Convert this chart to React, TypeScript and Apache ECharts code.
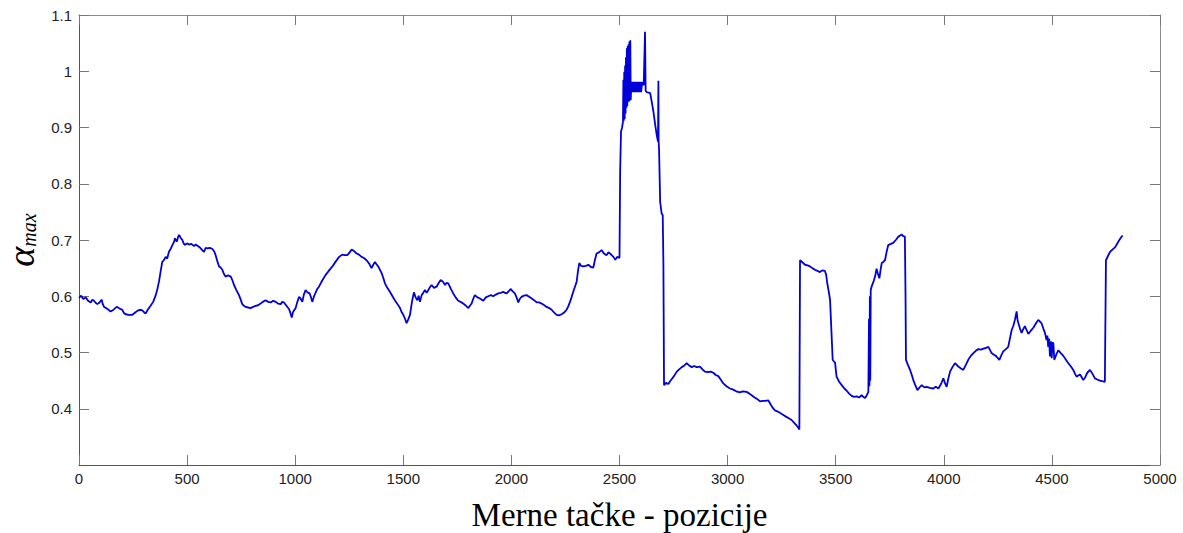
import React, { useEffect, useRef } from "react";
import * as echarts from "echarts";

const positions: number[] = [
  0, 10, 20, 31, 42, 54, 62, 69, 78, 85, 95, 105, 110, 116, 130, 146, 160, 170, 177, 188,
  200, 208, 216, 230, 247, 260, 270, 282, 293, 300, 308, 318, 331, 343, 355, 362, 370, 378, 385, 392,
  401, 408, 416, 425, 432, 440, 444, 452, 458, 463, 470, 478, 484, 490, 500, 509, 520, 532, 540, 547,
  555, 563, 570, 578, 586, 594, 605, 617, 625, 632, 640, 648, 655, 663, 670, 678, 690, 702, 710, 717,
  728, 740, 748, 755, 763, 771, 782, 794, 805, 817, 828, 840, 850, 863, 875, 887, 898, 910, 920, 933,
  940, 948, 956, 964, 972, 978, 984, 990, 1002, 1010, 1018, 1025, 1033, 1040, 1048, 1056, 1067, 1073, 1079, 1087,
  1095, 1102, 1110, 1125, 1141, 1155, 1172, 1188, 1203, 1218, 1230, 1241, 1252, 1261, 1270, 1284, 1295, 1307, 1318, 1330,
  1342, 1353, 1361, 1369, 1376, 1384, 1392, 1400, 1408, 1415, 1426, 1438, 1450, 1461, 1473, 1485, 1492, 1500, 1508, 1515,
  1522, 1531, 1540, 1549, 1557, 1565, 1571, 1577, 1585, 1592, 1600, 1608, 1616, 1623, 1631, 1642, 1654, 1663, 1673, 1683,
  1693, 1700, 1708, 1720, 1731, 1742, 1754, 1765, 1777, 1790, 1801, 1808, 1816, 1824, 1831, 1843, 1855, 1862, 1870, 1882,
  1893, 1905, 1916, 1928, 1939, 1951, 1963, 1970, 1978, 1988, 1996, 2005, 2016, 2024, 2032, 2040, 2047, 2058, 2070, 2082,
  2094, 2105, 2117, 2128, 2140, 2152, 2163, 2175, 2186, 2198, 2209, 2220, 2232, 2244, 2255, 2263, 2271, 2278, 2286, 2294,
  2302, 2308, 2314, 2322, 2333, 2345, 2356, 2368, 2379, 2386, 2394, 2405, 2417, 2428, 2440, 2448, 2456, 2464, 2472, 2480,
  2490, 2500, 2503, 2507, 2512, 2516, 2518, 2520, 2522, 2524, 2526, 2528, 2530, 2532, 2534, 2536, 2538, 2540, 2542, 2544,
  2546, 2548, 2550, 2552, 2555, 2560, 2564, 2568, 2572, 2576, 2580, 2584, 2588, 2592, 2596, 2600, 2605, 2612, 2618, 2621,
  2626, 2634, 2642, 2649, 2657, 2665, 2672, 2678, 2680, 2681, 2683, 2688, 2695, 2700, 2703, 2706, 2715, 2726, 2734, 2742,
  2752, 2765, 2776, 2788, 2800, 2811, 2822, 2834, 2845, 2857, 2872, 2884, 2895, 2910, 2922, 2934, 2945, 2957, 2968, 2980,
  2995, 3011, 3026, 3040, 3057, 3070, 3088, 3100, 3111, 3125, 3138, 3150, 3162, 3175, 3188, 3200, 3210, 3219, 3232, 3245,
  3258, 3270, 3283, 3296, 3308, 3320, 3332, 3335, 3347, 3358, 3370, 3381, 3392, 3404, 3416, 3427, 3438, 3450, 3456, 3461,
  3468, 3474, 3480, 3486, 3492, 3497, 3504, 3516, 3528, 3540, 3551, 3562, 3574, 3585, 3597, 3608, 3620, 3628, 3636, 3644,
  3651, 3654, 3656, 3658, 3660, 3662, 3666, 3674, 3682, 3689, 3695, 3702, 3708, 3713, 3720, 3728, 3735, 3743, 3755, 3766,
  3778, 3790, 3798, 3805, 3812, 3820, 3823, 3825, 3834, 3844, 3852, 3859, 3868, 3878, 3888, 3898, 3910, 3921, 3935, 3951,
  3963, 3975, 3987, 3998, 4005, 4013, 4020, 4029, 4040, 4052, 4060, 4067, 4078, 4090, 4102, 4113, 4125, 4137, 4148, 4160,
  4172, 4183, 4195, 4206, 4213, 4221, 4232, 4241, 4250, 4257, 4266, 4275, 4287, 4298, 4306, 4314, 4322, 4329, 4333, 4337,
  4341, 4345, 4352, 4360, 4367, 4375, 4383, 4391, 4403, 4414, 4425, 4437, 4445, 4452, 4460, 4468, 4475, 4479, 4483, 4487,
  4491, 4495, 4499, 4503, 4507, 4511, 4514, 4522, 4530, 4541, 4553, 4565, 4576, 4588, 4599, 4607, 4614, 4622, 4630, 4638,
  4645, 4653, 4661, 4668, 4676, 4688, 4699, 4710, 4722, 4733, 4745, 4750, 4760, 4769, 4780, 4792, 4800, 4807, 4817, 4827,
];

const alphaMax: number[] = [
  0.597, 0.601, 0.595, 0.598, 0.592, 0.589, 0.594, 0.592, 0.588, 0.586, 0.589, 0.594, 0.586, 0.581, 0.578, 0.573, 0.576, 0.580, 0.581, 0.578,
  0.576, 0.570, 0.568, 0.567, 0.567, 0.571, 0.574, 0.576, 0.575, 0.572, 0.569, 0.576, 0.583, 0.590, 0.602, 0.612, 0.626, 0.645, 0.661, 0.664,
  0.670, 0.667, 0.679, 0.685, 0.691, 0.697, 0.703, 0.697, 0.705, 0.709, 0.704, 0.700, 0.694, 0.691, 0.694, 0.692, 0.693, 0.689, 0.692, 0.690,
  0.688, 0.685, 0.682, 0.679, 0.686, 0.685, 0.686, 0.684, 0.680, 0.673, 0.662, 0.653, 0.651, 0.647, 0.640, 0.635, 0.637, 0.635, 0.628, 0.620,
  0.611, 0.602, 0.594, 0.586, 0.583, 0.581, 0.580, 0.579, 0.581, 0.583, 0.584, 0.587, 0.590, 0.593, 0.590, 0.589, 0.592, 0.590, 0.587, 0.586,
  0.590, 0.589, 0.585, 0.581, 0.577, 0.570, 0.562, 0.572, 0.579, 0.590, 0.599, 0.596, 0.590, 0.603, 0.611, 0.607, 0.605, 0.598, 0.590, 0.600,
  0.607, 0.613, 0.617, 0.628, 0.638, 0.645, 0.653, 0.662, 0.670, 0.674, 0.673, 0.673, 0.678, 0.683, 0.681, 0.676, 0.674, 0.670, 0.668, 0.664,
  0.658, 0.650, 0.656, 0.661, 0.657, 0.653, 0.647, 0.641, 0.632, 0.623, 0.615, 0.608, 0.600, 0.593, 0.586, 0.579, 0.572, 0.567, 0.560, 0.552,
  0.558, 0.567, 0.590, 0.607, 0.598, 0.593, 0.601, 0.590, 0.602, 0.606, 0.611, 0.606, 0.611, 0.616, 0.620, 0.615, 0.617, 0.623, 0.629, 0.626,
  0.620, 0.624, 0.623, 0.613, 0.605, 0.598, 0.592, 0.590, 0.587, 0.583, 0.579, 0.583, 0.587, 0.596, 0.602, 0.598, 0.596, 0.594, 0.592, 0.598,
  0.600, 0.602, 0.600, 0.603, 0.605, 0.606, 0.608, 0.606, 0.605, 0.609, 0.613, 0.609, 0.605, 0.598, 0.589, 0.596, 0.599, 0.601, 0.602, 0.599,
  0.596, 0.593, 0.589, 0.589, 0.587, 0.584, 0.581, 0.579, 0.576, 0.571, 0.567, 0.566, 0.568, 0.571, 0.576, 0.582, 0.590, 0.598, 0.608, 0.617,
  0.626, 0.645, 0.659, 0.654, 0.653, 0.654, 0.656, 0.652, 0.651, 0.664, 0.676, 0.678, 0.682, 0.676, 0.673, 0.678, 0.676, 0.673, 0.670, 0.665,
  0.670, 0.668, 0.821, 0.893, 0.900, 0.910, 0.985, 0.912, 0.999, 0.915, 1.010, 0.925, 1.025, 0.935, 1.041, 0.938, 1.045, 0.946, 1.048, 0.946,
  1.053, 0.948, 1.055, 0.949, 0.981, 0.963, 0.981, 0.963, 0.981, 0.963, 0.981, 0.963, 0.981, 0.963, 0.981, 0.963, 0.981, 0.975, 1.070, 0.965,
  0.963, 0.962, 0.961, 0.946, 0.928, 0.905, 0.887, 0.875, 0.983, 0.875, 0.860, 0.768, 0.747, 0.744, 0.659, 0.442, 0.446, 0.444, 0.449, 0.453,
  0.458, 0.466, 0.470, 0.474, 0.477, 0.481, 0.477, 0.474, 0.476, 0.474, 0.475, 0.470, 0.466, 0.465, 0.466, 0.464, 0.460, 0.458, 0.452, 0.445,
  0.440, 0.436, 0.434, 0.431, 0.429, 0.431, 0.430, 0.427, 0.424, 0.420, 0.417, 0.413, 0.414, 0.414, 0.415, 0.407, 0.401, 0.397, 0.395, 0.392,
  0.389, 0.386, 0.383, 0.380, 0.375, 0.370, 0.363, 0.664, 0.660, 0.656, 0.655, 0.653, 0.650, 0.647, 0.645, 0.643, 0.646, 0.645, 0.638, 0.623,
  0.608, 0.593, 0.540, 0.487, 0.484, 0.482, 0.457, 0.448, 0.442, 0.436, 0.432, 0.427, 0.423, 0.421, 0.422, 0.420, 0.424, 0.421, 0.419, 0.424,
  0.430, 0.560, 0.440, 0.600, 0.450, 0.611, 0.617, 0.625, 0.635, 0.649, 0.640, 0.632, 0.648, 0.659, 0.661, 0.664, 0.678, 0.691, 0.693, 0.695,
  0.700, 0.706, 0.708, 0.710, 0.707, 0.706, 0.600, 0.487, 0.478, 0.469, 0.460, 0.451, 0.442, 0.433, 0.438, 0.442, 0.438, 0.439, 0.437, 0.436,
  0.439, 0.436, 0.444, 0.454, 0.446, 0.439, 0.452, 0.466, 0.474, 0.481, 0.478, 0.475, 0.472, 0.469, 0.478, 0.487, 0.494, 0.499, 0.503, 0.506,
  0.505, 0.507, 0.508, 0.510, 0.505, 0.499, 0.496, 0.494, 0.490, 0.487, 0.495, 0.502, 0.506, 0.510, 0.525, 0.540, 0.548, 0.558, 0.566, 0.573,
  0.558, 0.552, 0.543, 0.535, 0.541, 0.547, 0.540, 0.533, 0.539, 0.544, 0.551, 0.558, 0.555, 0.552, 0.543, 0.535, 0.522, 0.530, 0.510, 0.525,
  0.493, 0.520, 0.490, 0.518, 0.516, 0.487, 0.487, 0.498, 0.504, 0.499, 0.494, 0.487, 0.481, 0.475, 0.469, 0.462, 0.457, 0.459, 0.461, 0.456,
  0.451, 0.455, 0.462, 0.466, 0.469, 0.462, 0.454, 0.452, 0.450, 0.449, 0.448, 0.664, 0.672, 0.679, 0.683, 0.687, 0.692, 0.697, 0.703, 0.708,
];

const xTicks = { min: 0, max: 5000, interval: 500 };
const yTicks = { min: 0.3, max: 1.1, interval: 0.1 };
const xTitle = "Merne tačke - pozicije";

export default function App() {
  const ref = useRef<HTMLDivElement>(null);

  useEffect(() => {
    if (!ref.current) return;
    const chart = echarts.init(ref.current, undefined, { renderer: "svg" });
    const data = positions.map((x, i) => [x, alphaMax[i]]);
    const labelFont = "'Liberation Sans', Arial, sans-serif";
    const serif = "'Liberation Serif', 'Times New Roman', serif";
    const axisColor = "#555";
    const boxColor = "#8c8c8c";
    const tickStyle = { show: true, inside: true, length: 10, lineStyle: { color: "#777", width: 1 } };

    chart.setOption({
      animation: false,
      backgroundColor: "#fff",
      grid: { left: 79, right: 23, top: 15, bottom: 68, containLabel: false, outerBoundsMode: "none" },
      xAxis: [
        {
          type: "value",
          position: "bottom",
          min: xTicks.min,
          max: xTicks.max,
          interval: xTicks.interval,
          axisLine: { show: true, onZero: false, lineStyle: { color: axisColor, width: 1 } },
          axisTick: tickStyle,
          splitLine: { show: false },
          axisLabel: {
            color: "#222",
            fontSize: 15,
            fontFamily: labelFont,
            margin: 6,
            showMinLabel: true,
            showMaxLabel: true,
            formatter: (v: number) => String(Math.round(v)),
          },
          name: xTitle,
          nameLocation: "middle",
          nameGap: 32,
          nameTextStyle: { color: "#000", fontSize: 33, fontFamily: serif, lineHeight: 36 },
        },
        {
          type: "value",
          position: "top",
          min: xTicks.min,
          max: xTicks.max,
          interval: xTicks.interval,
          axisLine: { show: true, onZero: false, lineStyle: { color: boxColor, width: 1 } },
          axisTick: tickStyle,
          splitLine: { show: false },
          axisLabel: { show: false },
        },
      ],
      yAxis: [
        {
          type: "value",
          position: "left",
          min: yTicks.min,
          max: yTicks.max,
          interval: yTicks.interval,
          axisLine: { show: true, onZero: false, lineStyle: { color: axisColor, width: 1 } },
          axisTick: tickStyle,
          splitLine: { show: false },
          axisLabel: {
            color: "#222",
            fontSize: 15,
            fontFamily: labelFont,
            margin: 7,
            showMinLabel: false,
            showMaxLabel: true,
            formatter: (v: number) => (Math.abs(v - 0.3) < 1e-6 ? "" : String(+v.toFixed(1))),
          },
          name: "{a|α}{m|max}",
          nameLocation: "middle",
          nameRotate: 90,
          nameGap: 38,
          nameTextStyle: {
            rich: {
              a: { fontSize: 38, lineHeight: 36, fontStyle: "italic", fontFamily: serif, color: "#000" },
              m: { fontSize: 20, lineHeight: 20, fontStyle: "italic", fontFamily: serif, color: "#000", verticalAlign: "bottom", padding: [8, 0, 0, 0] },
            },
          },
        },
        {
          type: "value",
          position: "right",
          min: yTicks.min,
          max: yTicks.max,
          interval: yTicks.interval,
          axisLine: { show: true, onZero: false, lineStyle: { color: boxColor, width: 1 } },
          axisTick: tickStyle,
          splitLine: { show: false },
          axisLabel: { show: false },
        },
      ],
      series: [
        {
          type: "line",
          xAxisIndex: 0,
          yAxisIndex: 0,
          data,
          showSymbol: false,
          symbol: "none",
          lineStyle: { color: "#0000d8", width: 1.8 },
        },
      ],
    });

    return () => chart.dispose();
  }, []);

  return (
    <div
      ref={ref}
      style={{ position: "absolute", left: 0, top: 0, width: 1183, height: 533, background: "#fff" }}
    />
  );
}
